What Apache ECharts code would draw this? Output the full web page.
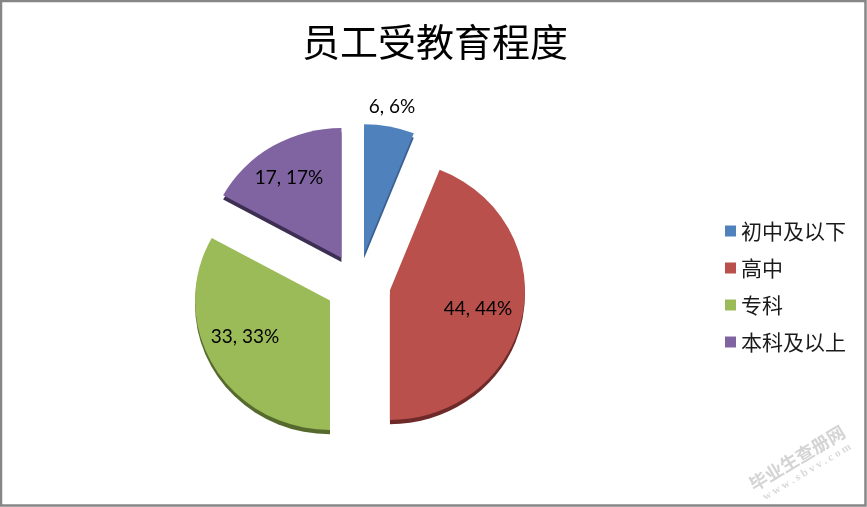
<!DOCTYPE html>
<html><head><meta charset="utf-8">
<style>html,body{margin:0;padding:0;background:#fff}#c{width:867px;height:507px}</style>
<script src="https://cdn.jsdelivr.net/npm/echarts@6/dist/echarts.min.js"></script>
</head><body><div id="c"></div>
<script>
const titleText = '员工受教育程度';
const categories = ['初中及以下', '高中', '专科', '本科及以上'];
const values = [6, 44, 33, 17];
const percents = [6, 44, 33, 17];
const topColors = ['#4f81bd', '#b9504c', '#9bbb59', '#8064a2'];
const rimColors = ['#3a6090', '#6e2a28', '#566a2e', '#3d2e53'];
const labelAnchors = [[392, 107], [478, 309], [245, 337], [289, 178]];
const cjk = '"Noto Sans CJK SC"';
const chart = echarts.init(document.getElementById('c'), null, {renderer: 'canvas'});
const toData = (colors) => categories.map((name, i) => ({
  name, value: values[i], selected: true, itemStyle: {color: colors[i]}
}));
const pieBase = {
  type: 'pie', radius: [0, 135], startAngle: 90, clockwise: true,
  selectedMode: 'multiple', selectedOffset: 32.5, animation: false,
  emphasis: {disabled: true}, labelLine: {show: false}, label: {show: false}
};
const dataLabels = categories.map((name, i) => ({
  type: 'text', silent: true, z: 9, x: labelAnchors[i][0], y: labelAnchors[i][1],
  style: {text: values[i] + ', ' + percents[i] + '%', fill: '#000', font: '19px Lato',
    align: 'center', verticalAlign: 'middle'}
}));
chart.setOption({
  animation: false,
  backgroundColor: '#ffffff',
  title: {
    text: titleText, left: 430, top: 18, textAlign: 'center',
    textStyle: {fontFamily: cjk, fontSize: 38, fontWeight: 'normal', color: '#000'}
  },
  legend: {
    orient: 'vertical', left: 720, top: 215.5, itemWidth: 11, itemHeight: 11, itemGap: 16,
    icon: 'rect', data: categories, selectedMode: false,
    textStyle: {fontFamily: cjk, fontSize: 21, color: '#1a1a1a'}
  },
  series: [
    Object.assign({}, pieBase, {z: 3, center: [358, 284.5], data: toData(topColors)}),
    Object.assign({}, pieBase, {z: 2, center: [358, 289], silent: true, data: toData(rimColors)})
  ],
  graphic: dataLabels.concat([
    {type: 'rect', silent: true, z: 10, shape: {x: 1, y: 1, width: 864.5, height: 504.5},
      style: {fill: 'none', stroke: '#868686', lineWidth: 2.5}},
    {type: 'text', silent: true, z: 10, x: 797, y: 458, rotation: 0.54,
      style: {text: '毕业生查册网', fill: '#d4d4d4', font: 'bold 18px "Noto Sans CJK SC"',
        align: 'center', verticalAlign: 'middle'}},
    {type: 'text', silent: true, z: 10, x: 807, y: 472, rotation: 0.54,
      style: {text: 'w w w . s b v v . c o m', fill: '#d9d9d9', font: 'bold 11px "Liberation Serif"',
        align: 'center', verticalAlign: 'middle'}}
  ])
});
// the reference pie is tilted: flatten the drawn pie groups slightly
(chart._chartsViews || []).forEach((v) => {
  v.group.originY = 284.5; v.group.scaleY = 0.96; v.group.dirty();
});
chart.getZr().refreshImmediately();
</script></body></html>
